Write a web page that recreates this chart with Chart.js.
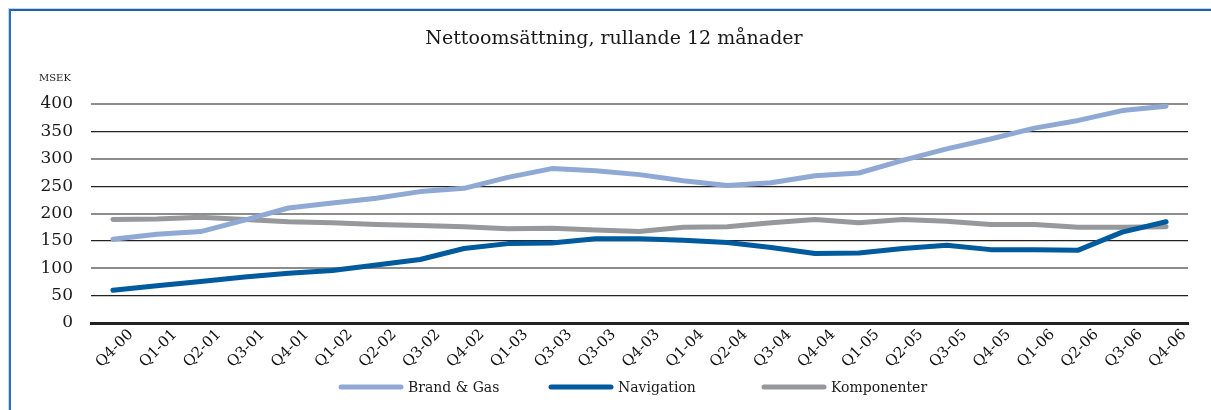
<!DOCTYPE html>
<html>
<head>
<meta charset="utf-8">
<script src="https://cdn.jsdelivr.net/npm/chart.js@4"></script>
<style>
  html, body { margin:0; padding:0; background:#fff; }
  #wrap { position:relative; width:1211px; height:410px; overflow:hidden; }
  #frame { position:absolute; left:9px; top:9px; right:-5px; bottom:-5px;
           border-top:2px solid #1a62b0; border-left:2px solid #2a6fba;
           box-shadow: -1px -1px 0 #c9d6e6; }
  canvas { position:absolute; left:0; top:0; }
</style>
</head>
<body>
<div id="wrap">
  <div id="frame"></div>
  <canvas id="chart" width="1211" height="410"></canvas>
</div>
<script>
// Kvartal (etiketterna som i originalet)
const quarters = ['Q4-00','Q1-01','Q2-01','Q3-01','Q4-01','Q1-02','Q2-02','Q3-02','Q4-02',
  'Q1-03','Q3-03','Q3-03','Q4-03','Q1-04','Q2-04','Q3-04','Q4-04','Q1-05','Q2-05','Q3-05',
  'Q4-05','Q1-06','Q2-06','Q3-06','Q4-06'];

// MSEK, rullande 12 månader
const brandGas = [153,162,167,188,210,219,228,240,246,266,282,278,271,260,251,256,269,274,297,318,336,356,370,388,396];
const navigation = [60,68,76,84,91,96,106,116,136,145,146,154,154,151,147,138,127,128,136,142,134,134,133,166,185];
const komponenter = [189,190,193,189,185,183,180,178,176,172,173,170,167,175,176,183,189,183,189,186,180,180,175,175,176];

const yTicks = [0,50,100,150,200,250,300,350,400];

const SERIF = "'DejaVu Serif', 'Liberation Serif', serif";

// title, unit and legend drawn by hand to match the original layout
const legendX = [339, 549, 762];
const decor = {
  id: 'decor',
  afterDraw(chart){
    const c = chart.ctx;
    c.save();
    c.fillStyle = '#1a1a1a';
    c.textBaseline = 'alphabetic';
    c.textAlign = 'center';
    c.font = '19px ' + SERIF;
    c.fillText('Nettoomsättning, rullande 12 månader', 614, 44);
    c.textAlign = 'left';
    c.font = '10px ' + SERIF;
    c.fillText('MSEK', 39, 81);

    // legend
    c.font = '14px ' + SERIF;
    const y = 387;
    chart.data.datasets.forEach((d, i) => {
      const x = legendX[i];
      c.strokeStyle = d.borderColor;
      c.lineWidth = 5;
      c.lineCap = 'round';
      c.beginPath();
      c.moveTo(x + 2, y);
      c.lineTo(x + 62, y);
      c.stroke();
      c.fillStyle = '#1a1a1a';
      c.textBaseline = 'middle';
      c.fillText(d.label, x + 69, y + 1);
    });
    c.restore();
  }
};

new Chart(document.getElementById('chart'), {
  type: 'line',
  data: {
    labels: quarters,
    datasets: [
      { label: 'Brand & Gas', data: brandGas, borderColor: '#8fa9d4' },
      { label: 'Navigation', data: navigation, borderColor: '#005a9e' },
      { label: 'Komponenter', data: komponenter, borderColor: '#97989c' }
    ]
  },
  options: {
    responsive: false,
    animation: false,
    layout: { padding: { top: 104, right: 23, left: 0, bottom: 0 } },
    elements: {
      line: { borderWidth: 5, tension: 0, borderCapStyle: 'round', borderJoinStyle: 'round' },
      point: { radius: 0 }
    },
    plugins: {
      legend: { display: false },
      title: { display: false },
      tooltip: { enabled: false }
    },
    scales: {
      x: {
        offset: true,
        grid: { display: false, drawTicks: false },
        border: { display: true, color: '#222', width: 3 },
        ticks: {
          color: '#111',
          font: { family: SERIF, size: 15 },
          maxRotation: 45, minRotation: 45,
          autoSkip: false,
          padding: 3,
          labelOffset: 18
        },
        afterFit(scale){ scale.height = 87; }
      },
      y: {
        min: 0, max: 400,
        afterBuildTicks(scale){ scale.ticks = yTicks.map(v => ({ value: v })); },
        border: { display: false },
        grid: {
          drawTicks: false,
          color: ctx => (ctx.tick && ctx.tick.value % 100 === 0 && ctx.tick.value !== 0) ? '#8c8c8c' : '#222',
          lineWidth: ctx => ctx.tick && ctx.tick.value === 0 ? 3 : (ctx.tick.value % 100 === 0 ? 2 : 1.2)
        },
        ticks: {
          color: '#1a1a1a',
          font: { family: SERIF, size: 17 },
          padding: 18
        },
        afterFit(scale){ scale.width = 91; }
      }
    }
  },
  plugins: [decor]
});
</script>
</body>
</html>
